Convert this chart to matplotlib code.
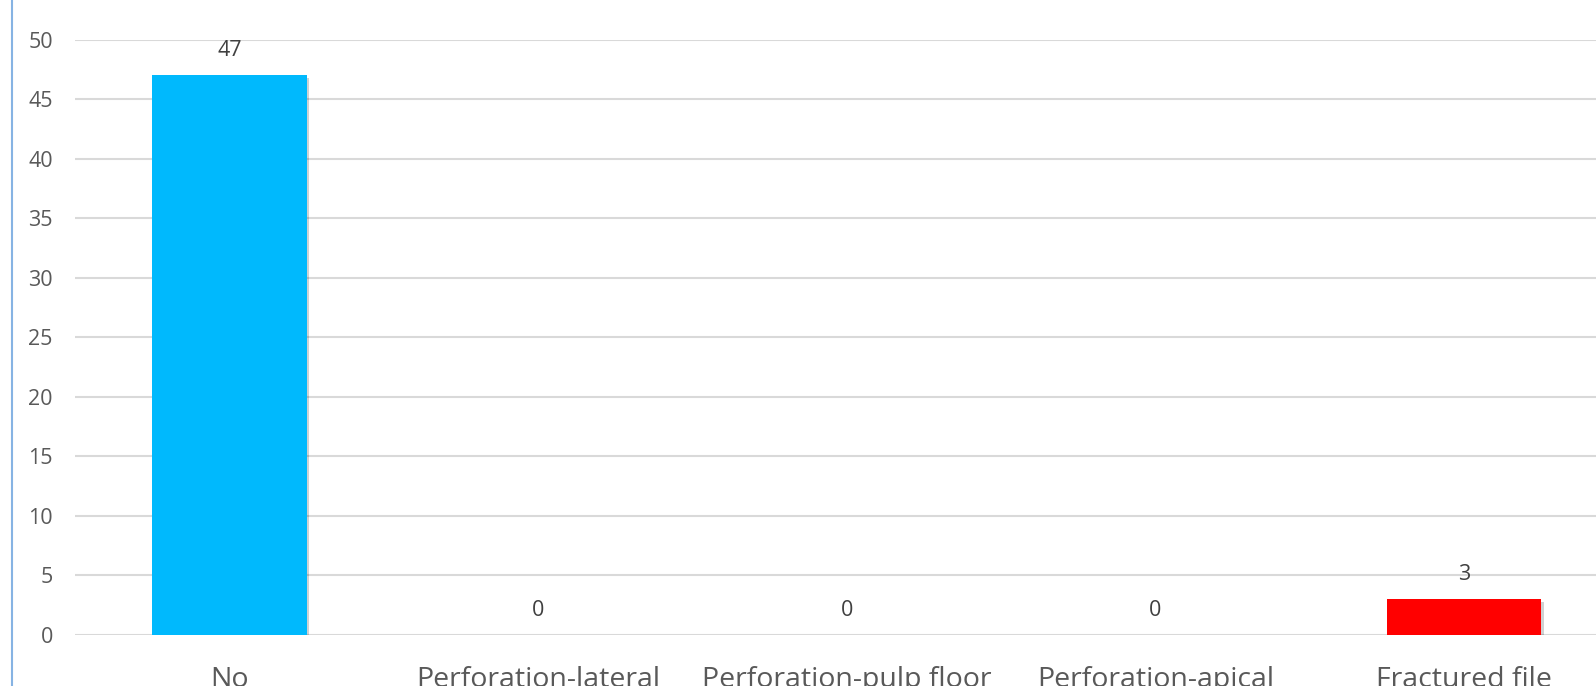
import matplotlib
matplotlib.use("Agg")
import matplotlib.pyplot as plt
import matplotlib.patheffects as pe
from matplotlib.lines import Line2D

categories = ["No", "Perforation-lateral", "Perforation-pulp floor", "Perforation-apical", "Fractured file"]
values = [47, 0, 0, 0, 3]
colors = ["#00B9FD", "#00B9FD", "#00B9FD", "#00B9FD", "#FF0000"]
yticks = [0, 5, 10, 15, 20, 25, 30, 35, 40, 45, 50]

W, H = 1596, 686
fig = plt.figure(figsize=(W / 100, H / 100), dpi=100)
plt.rcParams['font.family'] = ['Open Sans', 'DejaVu Sans']

left = 75 / W
bottom = (H - 635) / H
width = 1543.5 / W
height = 595.5 / H
ax = fig.add_axes([left, bottom, width, height])

x = list(range(len(categories)))
bars = ax.bar(x, values, width=0.5, color=colors, zorder=3)
for b in bars:
    b.set_path_effects([pe.SimplePatchShadow(offset=(2, -2), shadow_rgbFace='#000000', alpha=0.18), pe.Normal()])

for xi, v in zip(x, values):
    ax.annotate(str(v), (xi, v), xytext=(0, 25), textcoords='offset pixels',
                ha='center', va='center', fontsize=15.5, color='#404040')

ax.set_xlim(-0.5, 4.5)
ax.set_ylim(0, 50)
ax.set_yticks(yticks)
ax.set_yticklabels([str(t) for t in yticks])
ax.set_xticks(x)
ax.set_xticklabels(categories)
ax.tick_params(axis='y', length=0, pad=16, labelsize=15.5, labelcolor='#595959')
ax.tick_params(axis='x', length=0, pad=22, labelsize=20.5, labelcolor='#595959')
for lbl in ax.get_xticklabels():
    lbl.set_va('top')
for s in ax.spines.values():
    s.set_visible(False)
ax.grid(axis='y', color='#D9D9D9', linewidth=1.5, zorder=0)
ax.set_axisbelow(True)

fig.add_artist(Line2D([12 / W, 12 / W], [0, 1], transform=fig.transFigure, color='#86B3E3', linewidth=1.5))

fig.savefig("out.png", dpi=100)
